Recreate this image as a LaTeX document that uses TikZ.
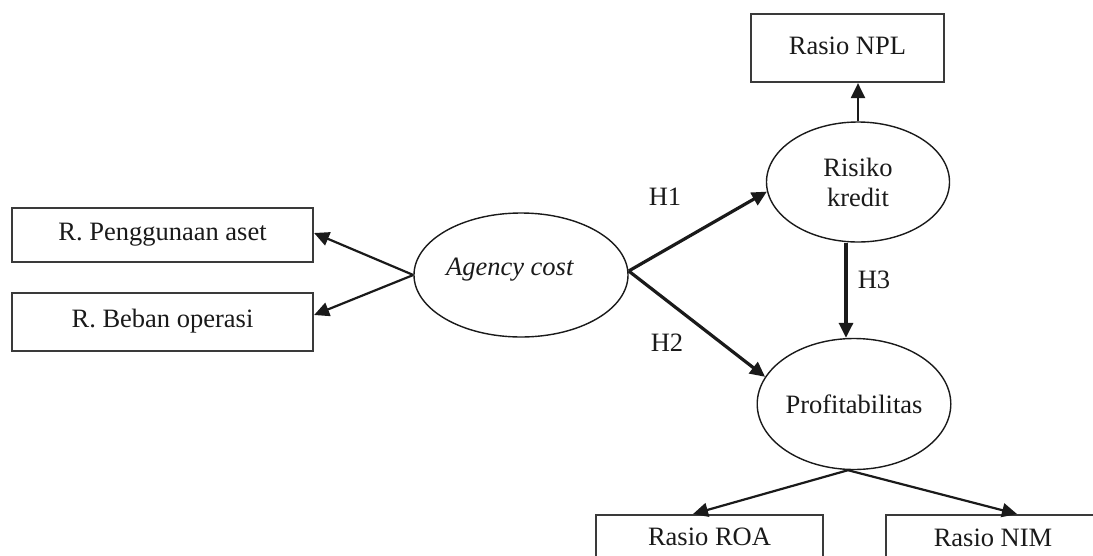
\documentclass[tikz,border=0pt]{standalone}
\usepackage{fontspec}
\setmainfont{Liberation Serif}
\usetikzlibrary{arrows.meta,shapes.geometric}
\definecolor{ink}{HTML}{1A1A1A}
\definecolor{boxline}{HTML}{3A3A3A}
\begin{document}
\begin{tikzpicture}[x=1pt,y=-1pt,
  every node/.style={font=\fontsize{26.5}{30}\selectfont, text=ink},
  box/.style={draw=boxline, line width=2.2pt, rectangle, inner sep=0pt},
  oval/.style={draw=ink, line width=1.4pt, ellipse, inner sep=0pt},
  thin arrow/.style={draw=ink, line width=2.2pt, -{Triangle[length=15pt,width=14pt]}},
  thick arrow/.style={draw=ink, line width=3.2pt, -{Triangle[length=15pt,width=14pt]}},
  hlabel/.style={inner sep=0pt}]
\useasboundingbox (0,0) rectangle (1093,555);
\clip (0,0) rectangle (1093,555);
\fill[white] (0,0) rectangle (1093,555);

% boxes
\node[box, minimum width=301pt, minimum height=54pt] (peng) at (162.5,235) {\raisebox{5pt}{R. Penggunaan aset}};
\node[box, minimum width=301pt, minimum height=58pt] (beban) at (162.5,322) {\raisebox{7pt}{R. Beban operasi}};
\node[box, minimum width=193pt, minimum height=68pt] (npl) at (847.5,48) {\raisebox{4pt}{Rasio NPL}};
\node[box, minimum width=227pt, minimum height=50pt, anchor=north] (roa) at (709.5,514) {\raisebox{6pt}{Rasio ROA}};
\node[box, minimum width=214pt, minimum height=50pt, anchor=north] (nim) at (993,514) {\raisebox{4pt}{Rasio NIM}};

% ellipses
\node[oval, minimum width=214pt, minimum height=124pt] (agency) at (521,275) {\raisebox{17pt}{\textit{Agency cost}}\kern22pt};
\node[oval, minimum width=183pt, minimum height=120pt, align=center] (risk) at (858,182) {Risiko\\kredit};
\node[oval, minimum width=192pt, minimum height=131pt] (prof) at (854,404) {Profitabilitas};

% hypothesis labels
\node[hlabel] (h1) at (665,197) {H1};
\node[hlabel] (h2) at (667,343) {H2};
\node[hlabel] (h3) at (874,280) {H3};

% connectors
\draw[thin arrow] (agency.west) -- ([yshift=2pt]peng.east);
\draw[thin arrow] (agency.west) -- ([yshift=7pt]beban.east);
\draw[thick arrow] ([yshift=4pt]agency.east) -- (risk.186);
\draw[thick arrow] ([yshift=4pt]agency.east) -- (prof.163);
\draw[thick arrow] ([xshift=-12pt]risk.south) -- ([xshift=-8pt]prof.north);
\draw[thin arrow] (risk.north) -- (risk.north |- npl.south);
\draw[thin arrow] ([xshift=-6pt]prof.south) -- ([xshift=-16.5pt]roa.north);
\draw[thin arrow] ([xshift=-6pt]prof.south) -- ([xshift=24pt]nim.north);
\end{tikzpicture}
\end{document}
